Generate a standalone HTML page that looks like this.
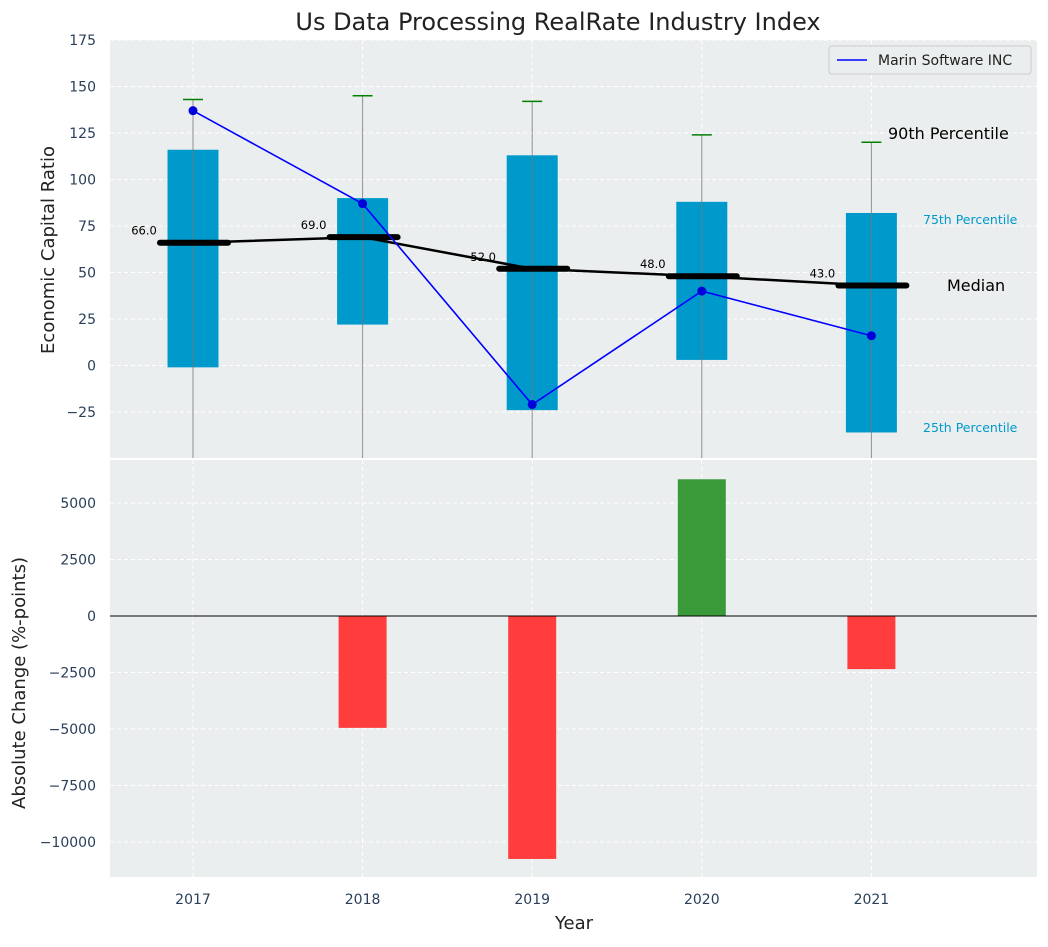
<!DOCTYPE html>
<html><head><meta charset="utf-8"><style>
body{margin:0;background:#fff;font-family:"Liberation Sans","DejaVu Sans",sans-serif}
svg text{font-family:"DejaVu Sans","Liberation Sans",sans-serif}
</style></head><body>
<svg id="chart" width="1048" height="942" xmlns="http://www.w3.org/2000/svg"></svg>
<script>
const years=[2017,2018,2019,2020,2021];
const q75=[116,90,113,88,82];
const q25=[-1,22,-24,3,-36];
const p90=[143,145,142,124,120];
const medians=[66,69,52,48,43];
const company=[137,87,-21,40,16];
const changes=[0,-4950,-10750,6050,-2350];
const topTicks=[-25,0,25,50,75,100,125,150,175];
const botTicks=[-10000,-7500,-5000,-2500,0,2500,5000];

const NS="http://www.w3.org/2000/svg";
const svg=document.getElementById('chart');
function el(t,a,p){const e=document.createElementNS(NS,t);for(const k in a)e.setAttribute(k,a[k]);(p||svg).appendChild(e);return e;}
const L=110,R=1037;
const x=v=>193+(v-2017)*169.6;
const yT=v=>40+(175-v)*1.86;
const yB=v=>616-v*0.0226;

let p=el('rect',{x:L,y:40,width:R-L,height:418,fill:'#ebeeee'});

p=el('rect',{x:L,y:460,width:R-L,height:417,fill:'#ebeeee'});


topTicks.forEach(t=>{
  el('line',{x1:L,x2:R,y1:yT(t),y2:yT(t),stroke:'#fff','stroke-dasharray':'4,3'});
  const tx=el('text',{x:96,y:yT(t)+5,'text-anchor':'end','font-size':14,fill:'#2a3f5a'});tx.textContent=t<0?'−'+(-t):t;
  
});
botTicks.forEach(t=>{
  el('line',{x1:L,x2:R,y1:yB(t),y2:yB(t),stroke:'#fff','stroke-dasharray':'4,3'});
  const tx=el('text',{x:96,y:yB(t)+5,'text-anchor':'end','font-size':14,fill:'#2a3f5a'});tx.textContent=t<0?'−'+(-t):t;
  
});
years.forEach(yr=>{
  el('line',{x1:x(yr),x2:x(yr),y1:40,y2:458,stroke:'#fff','stroke-dasharray':'4,3'});
  el('line',{x1:x(yr),x2:x(yr),y1:460,y2:877,stroke:'#fff','stroke-dasharray':'4,3'});
  const tx=el('text',{x:x(yr),y:904,'text-anchor':'middle','font-size':14,fill:'#2a3f5a'});tx.textContent=yr;
  
});

const bw=51;
years.forEach((yr,i)=>{
  const b=el('rect',{x:x(yr)-bw/2,y:yT(q75[i]),width:bw,height:yT(q25[i])-yT(q75[i]),fill:'#0099cc'});
  
  const w=el('line',{x1:x(yr),x2:x(yr),y1:yT(p90[i]),y2:458,stroke:'#777','stroke-width':1,opacity:0.8});
  
  const c=el('line',{x1:x(yr)-10,x2:x(yr)+10,y1:yT(p90[i]),y2:yT(p90[i]),stroke:'green','stroke-width':1.5});
  
});
let pts=years.map((yr,i)=>x(yr)+','+yT(medians[i])).join(' ');
p=el('polyline',{points:pts,fill:'none',stroke:'#000','stroke-width':2.5});

years.forEach((yr,i)=>{
  const m=el('line',{x1:x(yr)-33,x2:x(yr)+35,y1:yT(medians[i]),y2:yT(medians[i]),stroke:'#000','stroke-width':6,'stroke-linecap':'round'});
  
  const t=el('text',{x:x(yr)-49,y:yT(medians[i])-8,'text-anchor':'middle','font-size':11.5,fill:'#000'});t.textContent=medians[i].toFixed(1);
  
});
pts=years.map((yr,i)=>x(yr)+','+yT(company[i])).join(' ');
p=el('polyline',{points:pts,fill:'none',stroke:'blue','stroke-width':1.6});

years.forEach((yr,i)=>{
  const c=el('circle',{cx:x(yr),cy:yT(company[i]),r:4.5,fill:'#0000dd'});
  
});
[['90th Percentile',888,139,16,'#000','annotation-90th'],['75th Percentile',923,224,12.5,'#0099cc','annotation-75th'],['Median',947,291,16,'#000','annotation-median'],['25th Percentile',923,432,12.5,'#0099cc','annotation-25th']].forEach(a=>{
  const t=el('text',{x:a[1],y:a[2],'font-size':a[3],fill:a[4]});t.textContent=a[0];
  
});
const lg=el('g',{});
el('rect',{x:829,y:46,width:202,height:28,rx:3,fill:'#ebeeee',stroke:'#ccc'},lg);
el('line',{x1:837,x2:867,y1:60,y2:60,stroke:'blue','stroke-width':1.6},lg);
let lt=el('text',{x:878,y:65,'font-size':14,fill:'#222'},lg);lt.textContent='Marin Software INC';

years.forEach((yr,i)=>{
  const v=changes[i];
  const b=el('rect',{x:x(yr)-24,y:Math.min(yB(v),yB(0)),width:48,height:Math.abs(yB(v)-yB(0)),fill:v>=0?'#3a9a3a':'#ff3d3d'});
  
});
el('line',{x1:L,x2:R,y1:yB(0),y2:yB(0),stroke:'#000','stroke-width':1});

let t=el('text',{x:558,y:30,'text-anchor':'middle','font-size':24,fill:'#222'});t.textContent='Us Data Processing RealRate Industry Index';

t=el('text',{x:0,y:0,'text-anchor':'middle','font-size':18,fill:'#222',transform:'translate(54,250) rotate(-90)'});t.textContent='Economic Capital Ratio';

t=el('text',{x:0,y:0,'text-anchor':'middle','font-size':18,fill:'#222',transform:'translate(25,683) rotate(-90)'});t.textContent='Absolute Change (%-points)';

t=el('text',{x:574,y:929,'text-anchor':'middle','font-size':18,fill:'#222'});t.textContent='Year';

</script>
</body></html>
